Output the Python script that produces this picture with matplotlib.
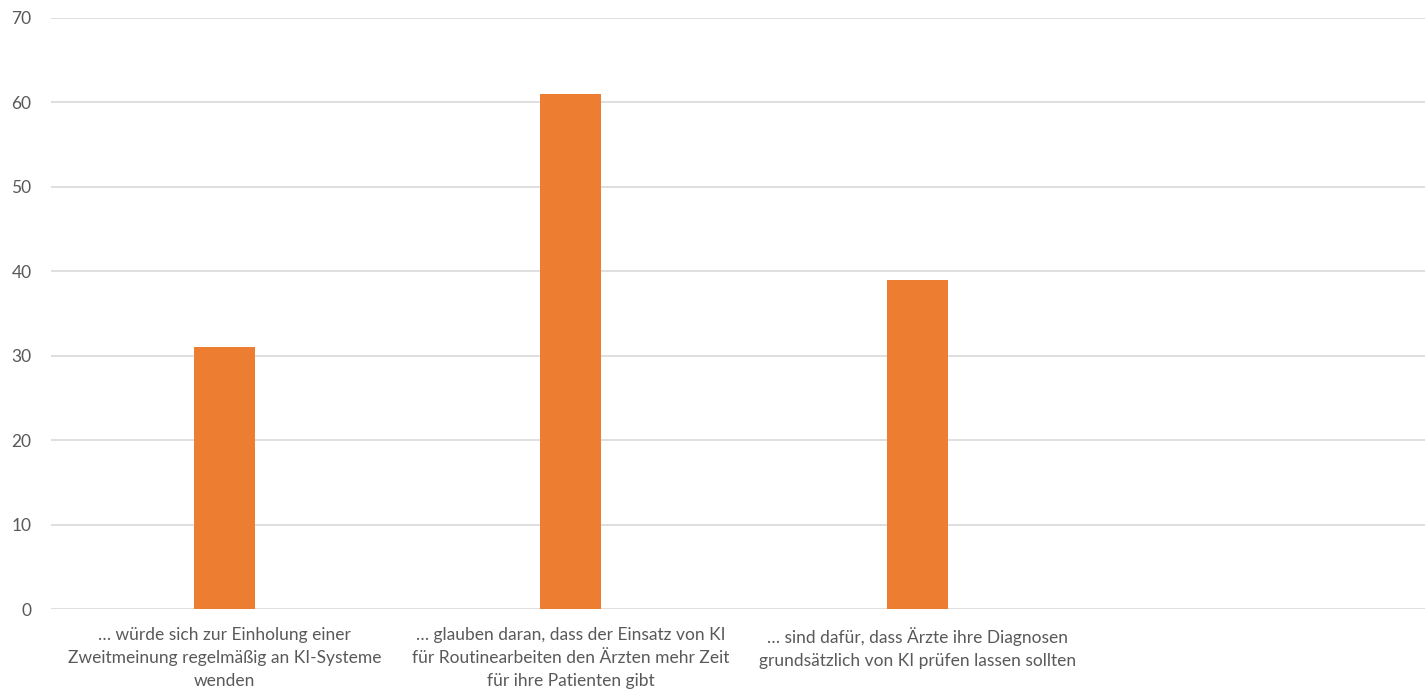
import matplotlib
matplotlib.use("Agg")
import matplotlib.pyplot as plt

# categories (the 4th slot is empty in the original chart)
categories = [
    "… würde sich zur Einholung einer\nZweitmeinung regelmäßig an KI-Systeme\nwenden",
    "… glauben daran, dass der Einsatz von KI\nfür Routinearbeiten den Ärzten mehr Zeit\nfür ihre Patienten gibt",
    "… sind dafür, dass Ärzte ihre Diagnosen\ngrundsätzlich von KI prüfen lassen sollten",
    "",
]
values = [31, 61, 39, 0]
y_ticks = [0, 10, 20, 30, 40, 50, 60, 70]

plt.rcParams['font.family'] = ['Lato', 'DejaVu Sans']

fig = plt.figure(figsize=(14.25, 6.95), dpi=100)
ax = fig.add_axes([51 / 1425, 86 / 695, 1374 / 1425, 591 / 695])

x = list(range(len(categories)))
ax.bar(x[:3], values[:3], width=0.175, color="#ED7D31", zorder=3)

ax.set_xlim(-0.5, 3.465)
ax.set_ylim(0, 70)
ax.set_yticks(y_ticks)
ax.set_xticks(x)
ax.set_xticklabels(categories, fontsize=12.5, color="#595959", linespacing=1.55)
ax.tick_params(axis="y", labelsize=12.5, labelcolor="#595959", length=0, pad=14)
ax.tick_params(axis="x", length=0, pad=13)

ax.grid(axis="y", color="#d9d9d9", linewidth=1.2, zorder=0)
for s in ax.spines.values():
    s.set_visible(False)

fig.savefig("out.png", dpi=100)
